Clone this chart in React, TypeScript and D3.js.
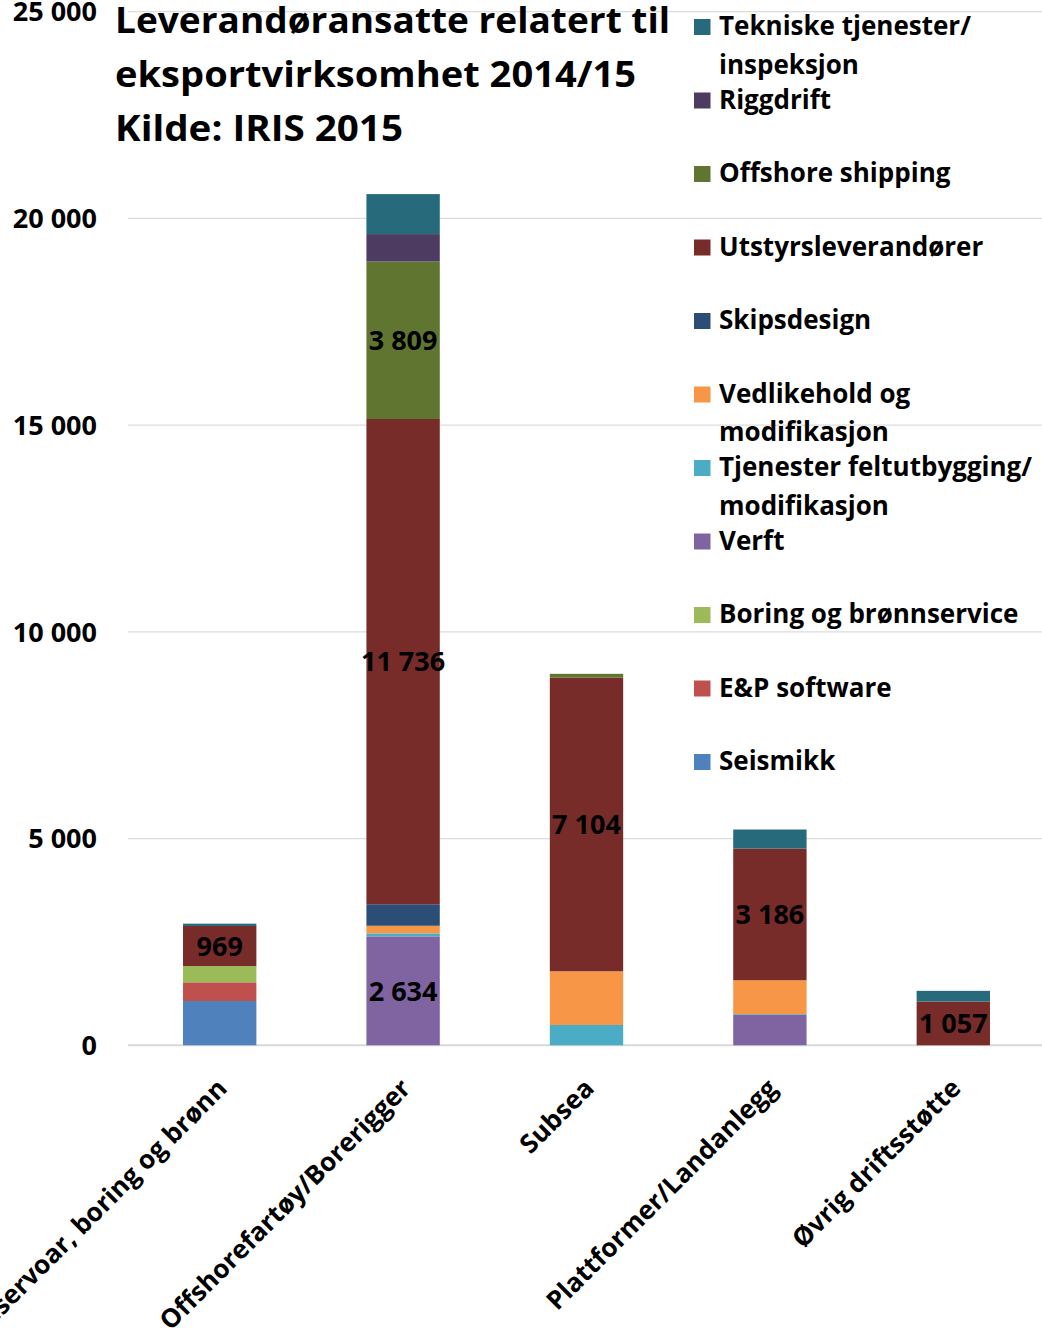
import React from "react";
import * as d3 from "d3";

// Categories along the x axis
const categories = [
  "Reservoar, boring og brønn",
  "Offshorefartøy/Borerigger",
  "Subsea",
  "Plattformer/Landanlegg",
  "Øvrig driftsstøtte",
];

// Series in stacking order (bottom to top); "\n" marks a legend line break
const seriesNames = [
  "Seismikk",
  "E&P software",
  "Boring og brønnservice",
  "Verft",
  "Tjenester feltutbygging/\nmodifikasjon",
  "Vedlikehold og\nmodifikasjon",
  "Skipsdesign",
  "Utstyrsleverandører",
  "Offshore shipping",
  "Riggdrift",
  "Tekniske tjenester/\ninspeksjon",
];

const seriesColors = [
  "#4F81BD",
  "#C0504D",
  "#9BBB59",
  "#8064A2",
  "#4BACC6",
  "#F79646",
  "#2C4D75",
  "#772C2A",
  "#5F7530",
  "#4D3B62",
  "#276A7C",
];

// Employees per series, one value per category
const seismikk = [1071, 0, 0, 0, 0];
const epSoftware = [452, 0, 0, 0, 0];
const boringBronn = [394, 0, 0, 0, 0];
const verft = [0, 2634, 0, 733, 0];
const tjenesterFelt = [0, 73, 491, 20, 0];
const vedlikehold = [0, 184, 1299, 820, 0];
const skipsdesign = [0, 520, 0, 0, 0];
const utstyr = [969, 11736, 7104, 3186, 1057];
const offshoreShipping = [0, 3809, 90, 0, 0];
const riggdrift = [0, 663, 0, 0, 0];
const tekniske = [56, 967, 0, 460, 260];

const seriesValues = [
  seismikk,
  epSoftware,
  boringBronn,
  verft,
  tjenesterFelt,
  vedlikehold,
  skipsdesign,
  utstyr,
  offshoreShipping,
  riggdrift,
  tekniske,
];

// Segments that carry a value label: [series index, category index]
const labelledSegments: [number, number][] = [
  [7, 0],
  [3, 1],
  [7, 1],
  [8, 1],
  [7, 2],
  [7, 3],
  [7, 4],
];

const yTicks = [0, 5000, 10000, 15000, 20000, 25000];

const titleLines = [
  "Leverandøransatte relatert til",
  "eksportvirksomhet 2014/15",
  "Kilde: IRIS 2015",
];

const W = 1042;
const H = 1340;
const FONT = "'Open Sans', 'DejaVu Sans', sans-serif";

const nbLocale = d3.formatLocale({
  decimal: ",",
  thousands: " ",
  grouping: [3],
  currency: ["", " kr"],
});
const fmt = nbLocale.format(",d");

export default function App() {
  const rows = categories.map((c, ci) => {
    const row: Record<string, number | string> = { category: c };
    seriesNames.forEach((s, si) => {
      row[s] = seriesValues[si][ci];
    });
    return row;
  });

  const stacked = d3
    .stack<Record<string, number | string>>()
    .keys(seriesNames)
    .value((d, k) => d[k] as number)(rows);

  const y = d3.scaleLinear().domain([0, 25000]).range([1045.3, 11.6]);
  const x = d3
    .scaleBand<string>()
    .domain(categories)
    .range([128, 1045])
    .paddingInner(0.6)
    .paddingOuter(0.3);

  const bw = x.bandwidth();
  const titleWidths = [555, 521, 288];

  const legendOrder = seriesNames.map((_, i) => i).reverse();

  return (
    <div style={{ position: "absolute", left: 0, top: 0 }}>
      <svg width={W} height={H} style={{ display: "block", background: "#fff" }}>
        {/* gridlines */}
        <g>
          {yTicks.map((t) => (
            <line
              key={t}
              x1={128}
              x2={W}
              y1={y(t)}
              y2={y(t)}
              stroke={t === 0 ? "#d9d9d9" : "#dcdcdc"}
              strokeWidth={t === 0 ? 2 : 1.3}
            />
          ))}
        </g>

        {/* y tick labels */}
        <g fontFamily={FONT} fontWeight={700} fontSize={27} fill="#000">
          {yTicks.map((t) => (
            <text key={t} x={97} y={y(t)} dy="0.36em" textAnchor="end">
              {fmt(t)}
            </text>
          ))}
        </g>

        {/* stacked bars */}
        <g>
          {stacked.map((layer, si) => (
            <g key={seriesNames[si]} fill={seriesColors[si]}>
              {layer.map((d, ci) => {
                const h = y(d[0]) - y(d[1]);
                if (h <= 0) return null;
                return (
                  <rect
                    key={ci}
                    x={x(categories[ci])!}
                    y={y(d[1])}
                    width={bw}
                    height={h}
                  />
                );
              })}
            </g>
          ))}
        </g>

        {/* value labels */}
        <g fontFamily={FONT} fontWeight={700} fontSize={27} fill="#000" textAnchor="middle">
          {labelledSegments.map(([si, ci]) => {
            const seg = stacked[si][ci];
            const cx = x(categories[ci])! + bw / 2;
            const cy = (y(seg[0]) + y(seg[1])) / 2;
            return (
              <text key={`${si}-${ci}`} x={cx} y={cy} dy="0.36em">
                {fmt(seriesValues[si][ci])}
              </text>
            );
          })}
        </g>

        {/* category labels */}
        <g fontFamily={FONT} fontWeight={700} fontSize={26} fill="#000">
          {categories.map((c) => {
            const px = x(c)! + bw / 2 + 9;
            const py = 1090;
            return (
              <text
                key={c}
                transform={`translate(${px},${py}) rotate(-45)`}
                textAnchor="end"
              >
                {c}
              </text>
            );
          })}
        </g>

        {/* title */}
        <g fontFamily={FONT} fontWeight={700} fontSize={35} fill="#000">
          {titleLines.map((line, i) => (
            <text
              key={line}
              x={115}
              y={33 + i * 54}
              textLength={titleWidths[i]}
              lengthAdjust="spacingAndGlyphs"
            >
              {line}
            </text>
          ))}
        </g>

        {/* legend */}
        <g fontFamily={FONT} fontWeight={700} fontSize={26} fill="#000">
          {legendOrder.map((si, row) => {
            const base = 35 + row * 73.5;
            const lines = seriesNames[si].split("\n");
            return (
              <g key={seriesNames[si]}>
                <rect x={694} y={base - 16} width={16.5} height={16} fill={seriesColors[si]} />
                {lines.map((ln, li) => (
                  <text key={li} x={719} y={base + li * 38.5}>
                    {ln}
                  </text>
                ))}
              </g>
            );
          })}
        </g>
      </svg>
    </div>
  );
}
